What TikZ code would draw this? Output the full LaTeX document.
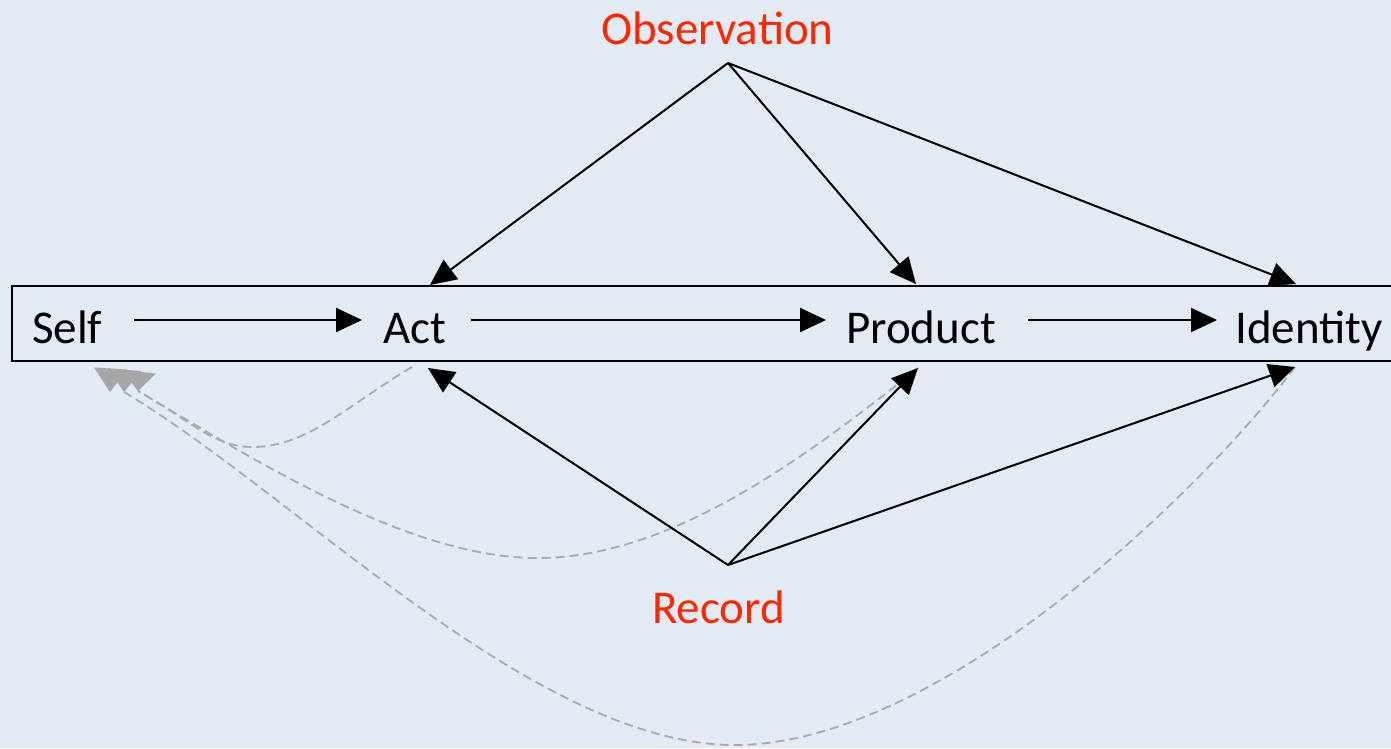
\documentclass[tikz,border=0pt]{standalone}
\usepackage{fontspec}
\setmainfont{Carlito}
\usetikzlibrary{arrows.meta}
\definecolor{bgblue}{RGB}{226,234,243}
\definecolor{labred}{RGB}{255,38,0}
\definecolor{dashgray}{RGB}{170,170,170}
\definecolor{headgray}{RGB}{166,166,166}
\tikzset{
  lbl/.style={inner sep=0pt, text height=46pt, text depth=0pt, anchor=base west,
              font=\fontsize{47pt}{51pt}\selectfont},
  redlbl/.style={lbl, text=labred},
  arr/.style={line width=2pt, -{Triangle[length=26pt,width=24pt]}},
  backlink/.style={dashgray, line width=1.8pt, dash pattern=on 9pt off 5pt},
  graytip/.style={fill=headgray, draw=none}
}
\begin{document}
\begin{tikzpicture}[x=1pt,y=-1pt]
\useasboundingbox (0,0) rectangle (1391,748);
\clip (0,0) rectangle (1391,748);
\fill[bgblue] (0,0) rectangle (1391,748);

% long frame
\draw[line width=2pt] (1400,286) -- (12,286) -- (12,361) -- (1400,361);

% labels
\node[lbl] (self) at (32,343) {Self};
\node[lbl] (act) at (383,343) {Act};
\node[lbl] (prod) at (846,343) {Product};
\node[lbl] (ident) at (1235,343) {Identity};
\node[redlbl] (obs) at (601,44) {Observation};
\node[redlbl] (rec) at (652,623) {Record};

% connector points
\coordinate (obsP) at (728,63);
\coordinate (recP) at (728,565);
\coordinate (actT) at (430,285);
\coordinate (prodT) at (916,284);
\coordinate (idT) at (1296,284);
\coordinate (actB) at (428,368);
\coordinate (prodB) at (918,368);
\coordinate (idB) at (1295,367);
\coordinate (actD) at (412,367);
\coordinate (tipA) at (110,392);
\coordinate (tipB) at (124,392);
\coordinate (tipC) at (138,391);

% dashed feedback curves
\draw[backlink] (actD) .. controls (352,402) and (308,447) .. (253,447)
                       .. controls (213,447) and (190,420) .. (tipC);
\draw[backlink] (prodB) .. controls (798,464) and (667,558) .. (537,558)
                        .. controls (407,558) and (250,457) .. (tipC);
\draw[backlink] (idB) .. controls (1195,500) and (935,745) .. (735,745)
                      .. controls (535,745) and (298,496) .. (tipB);

% gray heads at Self
\fill[graytip] (94,367.5) -- (127,369.5) -- (tipA) -- cycle;
\fill[graytip] (108,368.5) -- (141,371) -- (tipB) -- cycle;
\fill[graytip] (122,370) -- (156,373.5) -- (tipC) -- cycle;

% main chain
\draw[arr, shorten <=31pt, shorten >=21pt] (self) -- (act);
\draw[arr, shorten <=25pt, shorten >=20pt] (act) -- (prod);
\draw[arr, shorten <=32pt, shorten >=18pt] (prod) -- (ident);

% observation arrows
\draw[arr] (obsP) -- (actT);
\draw[arr] (obsP) -- (prodT);
\draw[arr] (obsP) -- (idT);

% record arrows
\draw[arr] (recP) -- (actB);
\draw[arr] (recP) -- (prodB);
\draw[arr] (recP) -- (idB);
\end{tikzpicture}
\end{document}
